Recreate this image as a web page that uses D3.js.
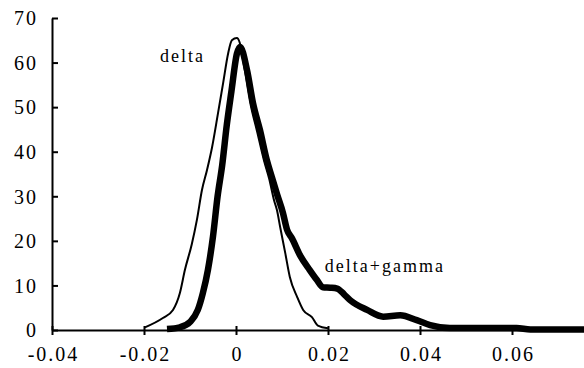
<!DOCTYPE html>
<html>
<head>
<meta charset="utf-8">
<script src="https://cdn.jsdelivr.net/npm/d3@7"></script>
<style>
  html, body { margin: 0; padding: 0; background: #fff; }
  svg { display: block; }
</style>
</head>
<body>
<svg id="chart" width="584" height="368"></svg>
<script>
// values
const deltaX = [-0.0198, -0.0159, -0.0137, -0.0122, -0.0111, -0.0096, -0.0085, -0.0074, -0.0063,
  -0.0052, -0.0039, -0.0028, -0.0017, -0.0009, 0.0002, 0.0008, 0.0018, 0.0031, 0.0046, 0.0061,
  0.0072, 0.0083, 0.0089, 0.0096, 0.0107, 0.0117, 0.0133, 0.0146, 0.0165, 0.0178, 0.0200];
const deltaY = [0.6, 2.7, 4.5, 8.3, 13.5, 19.3, 24.7, 31.4, 35.9,
  41.0, 48.7, 55.4, 62.1, 65.0, 65.5, 64.5, 59.0, 51.0, 44.5, 38.0,
  34.0, 29.0, 26.9, 23.1, 17.3, 11.9, 7.4, 4.5, 2.9, 1.0, 0.4];

const gammaX = [-0.0150, -0.0122, -0.0100, -0.0083, -0.0072, -0.0061, -0.0050, -0.0040, -0.0030,
  -0.0020, -0.0010, 0.0002, 0.0009, 0.0024, 0.0037, 0.0052, 0.0067, 0.0078, 0.0089, 0.0102,
  0.0111, 0.0122, 0.0139, 0.0160, 0.0176, 0.0189, 0.0205, 0.0220, 0.0235, 0.0248, 0.0285,
  0.0320, 0.0357, 0.0393, 0.0422, 0.0465, 0.0610, 0.0640, 0.0760];
const gammaY = [0.2, 0.6, 1.8, 4.5, 8.3, 13.5, 21.0, 30.0, 37.0,
  46.0, 53.5, 62.0, 63.5, 58.3, 50.9, 44.9, 38.1, 34.3, 30.5, 26.3,
  22.5, 20.5, 16.8, 13.5, 11.2, 9.6, 9.5, 9.3, 8.0, 6.7, 4.5,
  3.0, 3.3, 2.2, 1.1, 0.45, 0.45, 0.1, 0.1];

const xTicks = [-0.04, -0.02, 0, 0.02, 0.04, 0.06];
const yTicks = [0, 10, 20, 30, 40, 50, 60, 70];

const serif = "Liberation Serif";
const spacing = 2;   // text in the picture is spaced out wider than plain Times

const svg = d3.select("#chart");

const x = d3.scaleLinear().domain([-0.04, 0.08]).range([52, 604]);
const y = d3.scaleLinear().domain([0, 70]).range([330, 18]);

const line = d3.line().curve(d3.curveMonotoneX).x(d => x(d[0])).y(d => y(d[1]));

svg.append("path")
  .datum(d3.zip(gammaX, gammaY))
  .attr("d", line)
  .attr("fill", "none")
  .attr("stroke", "#000")
  .attr("stroke-width", 6.5);

svg.append("path")
  .datum(d3.zip(deltaX, deltaY))
  .attr("d", line)
  .attr("fill", "none")
  .attr("stroke", "#000")
  .attr("stroke-width", 2);

// x axis
const gx = svg.append("g")
  .attr("transform", `translate(0,${y(0)})`)
  .call(d3.axisBottom(x).tickValues(xTicks).tickFormat(d => String(d)).tickSizeOuter(0));
gx.selectAll(".tick line").attr("y1", -4).attr("y2", 5);
gx.selectAll(".tick text")
  .attr("x", spacing / 2).attr("y", 31).attr("dy", null);

// y axis
const gy = svg.append("g")
  .attr("transform", `translate(${x(-0.04)},0)`)
  .call(d3.axisLeft(y).tickValues(yTicks).tickSizeInner(-6).tickSizeOuter(0));
gy.selectAll(".tick text")
  .attr("x", -16 + spacing).attr("dy", "0.34em");

[gx, gy].forEach(g => g.attr("font-family", serif).attr("font-size", 20));
svg.selectAll(".tick text").attr("fill", "#000").attr("letter-spacing", spacing);
svg.selectAll(".domain, .tick line").attr("stroke", "#000").attr("stroke-width", 2);

// curve labels
const labels = [["delta", -0.0165, 60.1], ["delta+gamma", 0.0193, 13.0]];
svg.selectAll("text.lbl")
  .data(labels)
  .join("text")
  .attr("class", "lbl")
  .attr("x", d => x(d[1]))
  .attr("y", d => y(d[2]))
  .attr("font-family", serif)
  .attr("font-size", 18)
  .attr("letter-spacing", spacing)
  .attr("fill", "#000")
  .text(d => d[0]);
</script>
</body>
</html>
